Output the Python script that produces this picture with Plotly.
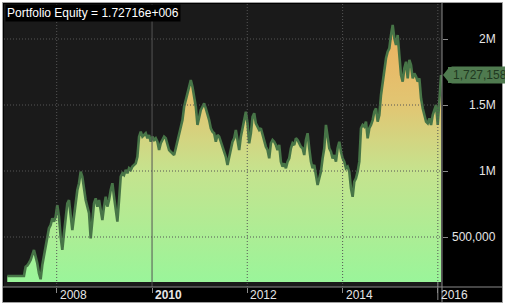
import pandas as pd
import plotly.graph_objects as go

# ---------------- data (equity in thousands of $) ----------------
equity_k = [
    205, 205, 205, 205, 205, 205, 205, 205, 205, 205, 205,
    275, 284, 303, 326, 364, 402, 351, 301, 225, 180,
    288, 351, 427, 502, 566, 591, 642, 616, 654, 742,
    654, 502, 402, 528, 654, 755, 780, 654, 553, 654,
    780, 856, 907, 995, 957, 856, 780, 730, 680, 490,
    604, 755, 793, 730, 780, 705, 629, 730, 805, 730,
    780, 856, 907, 805, 705, 616, 780, 957, 983, 970,
    1008, 983, 1021, 1008, 1033, 1046, 1058, 1108, 1260, 1298,
    1260, 1273, 1286, 1248, 1273, 1222, 1260, 1235, 1248, 1222,
    1159, 1210, 1235, 1260, 1248, 1197, 1159, 1146, 1134, 1121,
    1172, 1222, 1273, 1336, 1386, 1487, 1538, 1589, 1627, 1689,
    1639, 1563, 1487, 1349, 1411, 1462, 1487, 1513, 1475, 1437,
    1386, 1324, 1298, 1286, 1222, 1273, 1260, 1222, 1184, 1146,
    1108, 1046, 1108, 1184, 1222, 1248, 1311, 1235, 1159, 1260,
    1336, 1386, 1449, 1361, 1210, 1286, 1411, 1437, 1361, 1336,
    1311, 1324, 1273, 1222, 1184, 1159, 1096, 1210, 1235, 1222,
    1197, 1159, 1197, 1071, 1033, 1058, 1021, 1071, 1096, 1172,
    1210, 1197, 1248, 1235, 1210, 1184, 1172, 1121, 1235, 1286,
    1172, 1071, 1021, 1046, 970, 894, 945, 995, 1096, 1172,
    1349, 1248, 1172, 1146, 1096, 1121, 1071, 1172, 1222, 1146,
    1096, 1071, 1021, 1033, 995, 869, 805, 919, 945, 995,
    1071, 1324, 1349, 1336, 1374, 1248, 1324, 1349, 1386, 1449,
    1475, 1374, 1424, 1576, 1677, 1778, 1854, 1904, 1930, 2030,
    2106, 2005, 1955, 2030, 1904, 1727, 1677, 1778, 1828, 1702,
    1841, 1803, 1702, 1740, 1715, 1677, 1702, 1551, 1475, 1424,
    1374, 1361, 1399, 1349, 1424, 1462, 1500, 1349, 1576, 1727.158,
]
start_date = "2006-12-18"
sample_step = "307h"
dates = pd.date_range(start_date, periods=len(equity_k), freq=sample_step)

last_value = 1727158
title_text = "Portfolio Equity = 1.72716e+006"

year_ticks = ["2008-01-01", "2010-01-01", "2012-01-01", "2014-01-01", "2016-01-01"]
year_labels = ["2008", "2010", "2012", "2014", "2016"]
bold_year = "2010"
value_ticks = [500, 1000, 1500, 2000]
value_labels = ["500,000", "1M", "1.5M", "2M"]
fill_floor = 159

# ---------------- layout geometry ----------------
W, H = 505, 305
ML, MR, MT, MB = 4, 63, 4, 18
PW, PH = W - ML - MR, H - MT - MB


def px_x(p):
    return (p - ML) / PW


def px_y(p):
    return (MT + PH - p) / PH


FONT = "Liberation Sans, Arial, sans-serif"
LABEL_COLOR = "#e6e6e6"
GRID_COLOR = "#555555"
AXIS_COLOR = "#8a8a8a"
LINE_GREEN = "#477547"
TAG_GREEN = "#4f7a4f"

fig = go.Figure()
fig.add_trace(go.Scatter(
    x=dates, y=[fill_floor] * len(dates), mode="lines",
    line=dict(width=0, color="rgba(0,0,0,0)"), hoverinfo="skip", showlegend=False,
))
fig.add_trace(go.Scatter(
    x=dates, y=equity_k, mode="lines", name="Portfolio Equity",
    line=dict(color=LINE_GREEN, width=2.6),
    fill="tonexty",
    fillgradient=dict(
        type="vertical",
        colorscale=[[0.0, "#9af59a"], [0.42, "#c5e38e"], [0.67, "#e1c673"], [1.0, "#eeae5c"]],
        start=fill_floor, stop=2150,
    ),
    showlegend=False,
))

shapes = []
for v in value_ticks:
    shapes.append(dict(type="line", xref="paper", yref="y", x0=0, x1=1, y0=v, y1=v,
                       line=dict(color=GRID_COLOR, width=1, dash="1px,2px"), layer="above"))
for d, lab in zip(year_ticks, year_labels):
    dash = "solid" if lab == bold_year else "1px,2px"
    shapes.append(dict(type="line", xref="x", yref="paper", x0=d, x1=d, y0=0, y1=1,
                       line=dict(color=GRID_COLOR, width=1, dash=dash), layer="above"))
# axis lines extending into the frame
shapes.append(dict(type="line", xref="paper", yref="paper", x0=1, x1=1,
                   y0=px_y(302), y1=px_y(3), line=dict(color=AXIS_COLOR, width=1), layer="above"))
shapes.append(dict(type="line", xref="paper", yref="paper", x0=px_x(3), x1=px_x(502),
                   y0=0, y1=0, line=dict(color=AXIS_COLOR, width=1), layer="above"))
shapes.append(dict(type="line", xref="x", yref="paper", x0=year_ticks[-1], x1=year_ticks[-1],
                   y0=px_y(282), y1=px_y(300), line=dict(color=AXIS_COLOR, width=1), layer="above"))
# last-value tag arrow
shapes.append(dict(type="path", xref="paper", yref="y", xsizemode="pixel", ysizemode="pixel",
                   xanchor=1, yanchor=equity_k[-1], path="M 1 0 L 7 7.5 L 7 -7.5 Z",
                   fillcolor=TAG_GREEN, line=dict(width=0), layer="above"))
# outer frame
shapes.append(dict(type="rect", xref="paper", yref="paper", x0=px_x(0), x1=px_x(W),
                   y0=px_y(H), y1=px_y(0), line=dict(color="white", width=5), layer="above"))
shapes.append(dict(type="rect", xref="paper", yref="paper", x0=px_x(2.5), x1=px_x(502.5),
                   y0=px_y(302.5), y1=px_y(2.5), line=dict(color="#a0a0a0", width=1), layer="above"))

annotations = []
for d, lab in zip(year_ticks, year_labels):
    txt = f"<b>{lab}</b>" if lab == bold_year else lab
    annotations.append(dict(x=d, xref="x", y=px_y(294.5), yref="paper", text=txt,
                            showarrow=False, xanchor="left", yanchor="middle", xshift=1,
                            font=dict(family=FONT, size=12, color=LABEL_COLOR)))
for v, lab in zip(value_ticks, value_labels):
    annotations.append(dict(x=px_x(498), xref="paper", y=v, yref="y", text=lab,
                            showarrow=False, xanchor="right", yanchor="middle",
                            font=dict(family=FONT, size=12, color=LABEL_COLOR)))
annotations.append(dict(x=0, xref="paper", y=1, yref="paper", text=title_text,
                        showarrow=False, xanchor="left", yanchor="top", bgcolor="black",
                        borderpad=1, xshift=1,
                        font=dict(family=FONT, size=12, color="white")))
annotations.append(dict(x=px_x(448), xref="paper", y=equity_k[-1], yref="y",
                        text=f"{last_value:,}", showarrow=False, xanchor="left",
                        yanchor="middle", bgcolor=TAG_GREEN, borderpad=1, xshift=3,
                        font=dict(family=FONT, size=12, color="#203820")))
shapes.append(dict(type="rect", xref="paper", yref="y", xsizemode="pixel", ysizemode="pixel",
                   xanchor=1, yanchor=equity_k[-1], x0=6, x1=10, y0=-8, y1=8,
                   fillcolor=TAG_GREEN, line=dict(width=0), layer="above"))

fig.update_layout(
    width=W, height=H,
    margin=dict(l=ML, r=MR, t=MT, b=MB, pad=0),
    paper_bgcolor="black", plot_bgcolor="#1a1a1a",
    showlegend=False,
    xaxis=dict(type="date", range=["2006-11-23", "2016-02-02"], tickvals=year_ticks,
               showticklabels=False, ticks="outside", ticklen=5, tickcolor=AXIS_COLOR,
               showgrid=False, zeroline=False, showline=False, fixedrange=True),
    yaxis=dict(range=[121.2, 2265.2], side="right", tickvals=value_ticks,
               showticklabels=False, ticks="outside", ticklen=5, tickcolor=AXIS_COLOR,
               showgrid=False, zeroline=False, showline=False, fixedrange=True),
    shapes=shapes,
    annotations=annotations,
)

fig.write_html("out.html", config={"displayModeBar": False})
